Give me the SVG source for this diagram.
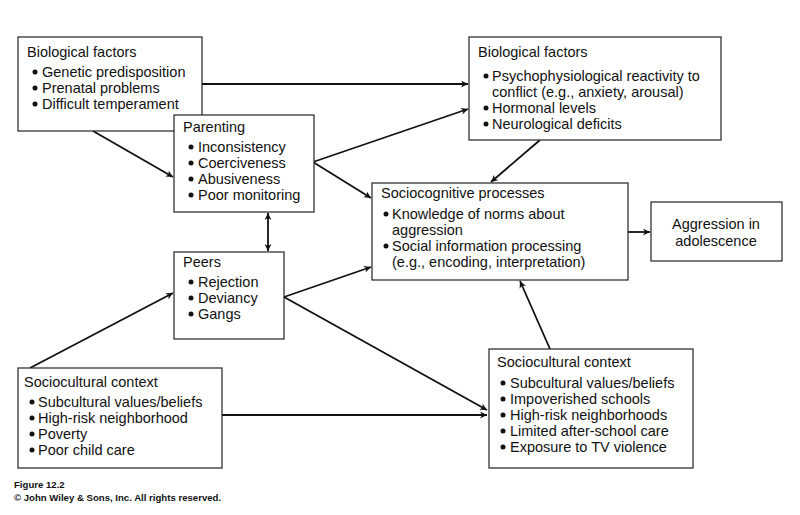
<svg xmlns="http://www.w3.org/2000/svg" width="800" height="515" viewBox="0 0 800 515">
<defs>
<style>
.box{fill:#fff;stroke:#222;stroke-width:1.2}
text{font-family:"Liberation Sans",Arial,sans-serif;font-size:14.5px;fill:#111}
.dot{fill:#111}
.c{stroke:#111;stroke-width:1.8;fill:none}
.foot{font-size:9.6px;font-weight:bold}
</style>
<marker id="ah" viewBox="0 0 10 10" refX="10" refY="5" markerWidth="7" markerHeight="7" markerUnits="userSpaceOnUse" orient="auto-start-reverse">
<path d="M0,0 L10,5 L0,10 L3,5 z" fill="#111"/>
</marker>
</defs>
<rect width="800" height="515" fill="#fff"/>
<g id="connectors">
<line class="c" x1="202" y1="84" x2="468" y2="84" marker-end="url(#ah)"/>
<line class="c" x1="93" y1="131" x2="173" y2="177" marker-end="url(#ah)"/>
<line class="c" x1="313" y1="162" x2="468" y2="109" marker-end="url(#ah)"/>
<line class="c" x1="313" y1="162" x2="371" y2="198" marker-end="url(#ah)"/>
<line class="c" x1="268" y1="213" x2="268" y2="251" marker-start="url(#ah)" marker-end="url(#ah)"/>
<line class="c" x1="284" y1="297" x2="371" y2="267" marker-end="url(#ah)"/>
<line class="c" x1="284" y1="297" x2="487" y2="410" marker-end="url(#ah)"/>
<line class="c" x1="30" y1="368" x2="173" y2="293" marker-end="url(#ah)"/>
<line class="c" x1="222" y1="415" x2="487" y2="415" marker-end="url(#ah)"/>
<line class="c" x1="540" y1="140" x2="491" y2="182" marker-end="url(#ah)"/>
<line class="c" x1="550" y1="349" x2="520" y2="281" marker-end="url(#ah)"/>
<line class="c" x1="628" y1="232" x2="650" y2="232" marker-end="url(#ah)"/>
</g>
<g id="bio-left">
<rect class="box" x="18" y="37" width="184" height="94"/>
<text x="27" y="57">Biological factors</text>
<circle class="dot" cx="35" cy="72" r="2.5"/><text x="42" y="77">Genetic predisposition</text>
<circle class="dot" cx="35" cy="88" r="2.5"/><text x="42" y="93">Prenatal problems</text>
<circle class="dot" cx="35" cy="104" r="2.5"/><text x="42" y="109">Difficult temperament</text>
</g>
<g id="parenting">
<rect class="box" x="174" y="115" width="140" height="97"/>
<text x="183" y="132">Parenting</text>
<circle class="dot" cx="191" cy="147" r="2.5"/><text x="198" y="152">Inconsistency</text>
<circle class="dot" cx="191" cy="163" r="2.5"/><text x="198" y="168">Coerciveness</text>
<circle class="dot" cx="191" cy="179" r="2.5"/><text x="198" y="184">Abusiveness</text>
<circle class="dot" cx="191" cy="195" r="2.5"/><text x="198" y="200">Poor monitoring</text>
</g>
<g id="bio-right">
<rect class="box" x="469" y="37" width="252" height="103"/>
<text x="478" y="57">Biological factors</text>
<circle class="dot" cx="486" cy="76" r="2.5"/><text x="492" y="81">Psychophysiological reactivity to</text>
<text x="492" y="97">conflict (e.g., anxiety, arousal)</text>
<circle class="dot" cx="486" cy="108" r="2.5"/><text x="492" y="113">Hormonal levels</text>
<circle class="dot" cx="486" cy="124" r="2.5"/><text x="492" y="129">Neurological deficits</text>
</g>
<g id="sociocognitive">
<rect class="box" x="372" y="183" width="256" height="97"/>
<text x="381" y="198">Sociocognitive processes</text>
<circle class="dot" cx="386" cy="214" r="2.5"/><text x="392" y="219">Knowledge of norms about</text>
<text x="392" y="235">aggression</text>
<circle class="dot" cx="386" cy="246" r="2.5"/><text x="392" y="251">Social information processing</text>
<text x="392" y="267">(e.g., encoding, interpretation)</text>
</g>
<g id="aggression">
<rect class="box" x="651" y="202" width="131" height="59"/>
<text x="716" y="229" text-anchor="middle">Aggression in</text>
<text x="716" y="246" text-anchor="middle">adolescence</text>
</g>
<g id="peers">
<rect class="box" x="174" y="252" width="110" height="87"/>
<text x="183" y="267">Peers</text>
<circle class="dot" cx="191" cy="282" r="2.5"/><text x="198" y="287">Rejection</text>
<circle class="dot" cx="191" cy="298" r="2.5"/><text x="198" y="303">Deviancy</text>
<circle class="dot" cx="191" cy="314" r="2.5"/><text x="198" y="319">Gangs</text>
</g>
<g id="socio-left">
<rect class="box" x="18" y="368" width="204" height="100"/>
<text x="24" y="387">Sociocultural context</text>
<circle class="dot" cx="32" cy="402" r="2.5"/><text x="38" y="407">Subcultural values/beliefs</text>
<circle class="dot" cx="32" cy="418" r="2.5"/><text x="38" y="423">High-risk neighborhood</text>
<circle class="dot" cx="32" cy="434" r="2.5"/><text x="38" y="439">Poverty</text>
<circle class="dot" cx="32" cy="450" r="2.5"/><text x="38" y="455">Poor child care</text>
</g>
<g id="socio-right">
<rect class="box" x="489" y="349" width="204" height="119"/>
<text x="497" y="367">Sociocultural context</text>
<circle class="dot" cx="503" cy="383" r="2.5"/><text x="510" y="388">Subcultural values/beliefs</text>
<circle class="dot" cx="503" cy="399" r="2.5"/><text x="510" y="404">Impoverished schools</text>
<circle class="dot" cx="503" cy="415" r="2.5"/><text x="510" y="420">High-risk neighborhoods</text>
<circle class="dot" cx="503" cy="431" r="2.5"/><text x="510" y="436">Limited after-school care</text>
<circle class="dot" cx="503" cy="447" r="2.5"/><text x="510" y="452">Exposure to TV violence</text>
</g>
<g id="footer">
<text class="foot" x="14" y="488">Figure 12.2</text>
<text class="foot" x="14" y="501">© John Wiley &amp; Sons, Inc. All rights reserved.</text>
</g>
</svg>
